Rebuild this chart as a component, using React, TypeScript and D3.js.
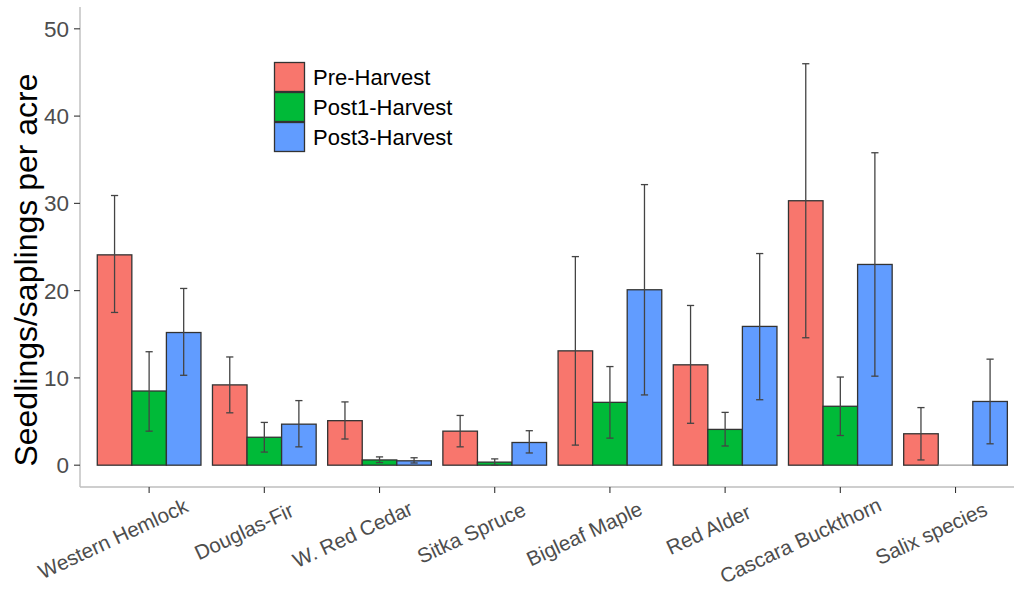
import React from "react";
import * as d3 from "d3";

const categories = ["Western Hemlock", "Douglas-Fir", "W. Red Cedar", "Sitka Spruce", "Bigleaf Maple", "Red Alder", "Cascara Buckthorn", "Salix species"];
const seriesNames = ["Pre-Harvest", "Post1-Harvest", "Post3-Harvest"];
const seriesColors = ["#F8766D", "#00BA38", "#619CFF"];
const preValues = [24.1, 9.2, 5.1, 3.9, 13.1, 11.5, 30.3, 3.6];
const preLow = [17.5, 6.0, 3.0, 2.1, 2.3, 4.8, 14.6, 0.6];
const preHigh = [30.9, 12.4, 7.25, 5.7, 23.9, 18.3, 46.0, 6.6];
const post1Values = [8.5, 3.2, 0.6, 0.35, 7.2, 4.1, 6.75, 0];
const post1Low = [3.9, 1.5, 0.3, 0.0, 3.1, 2.2, 3.4, 0];
const post1High = [13.0, 4.9, 0.95, 0.72, 11.3, 6.05, 10.1, 0];
const post3Values = [15.2, 4.7, 0.5, 2.6, 20.1, 15.9, 23.0, 7.3];
const post3Low = [10.3, 2.1, 0.25, 1.4, 8.05, 7.5, 10.2, 2.45];
const post3High = [20.25, 7.4, 0.85, 3.95, 32.15, 24.25, 35.8, 12.15];
const yTicks = [0, 10, 20, 30, 40, 50];
const yTitle = "Seedlings/saplings per acre";

const values = [preValues, post1Values, post3Values];
const lows = [preLow, post1Low, post3Low];
const highs = [preHigh, post1High, post3High];

const FONT = "'Liberation Sans', Arial, sans-serif";
const X_LABEL_SIZE = 20.6;

function measure(text: string, size: number): number {
  if (typeof document === "undefined") return text.length * size * 0.5;
  const c = document.createElement("canvas").getContext("2d");
  if (!c) return text.length * size * 0.5;
  c.font = `${size}px ${FONT}`;
  return c.measureText(text).width;
}

export default function App() {
  const W = 1014, H = 596;
  const panelLeft = 80, panelTop = 7, panelBottom = 487;
  const step = 115.2;
  const x = d3.scaleBand<string>().domain(categories).range([panelLeft, panelLeft + 8.2 * step]).paddingInner(0.1).paddingOuter(0.15);
  const xi = d3.scaleBand<string>().domain(seriesNames).range([0, x.bandwidth()]).padding(0);
  const y = d3.scaleLinear().domain([-2.5, 52.5]).range([panelBottom, panelTop]);
  const capHalf = 3.6;

  return (
    <svg width={W} height={H} style={{ position: "absolute", left: 0, top: 0, background: "#fff" }} fontFamily={FONT}>
      <rect x={0} y={0} width={W} height={H} fill="#fff" />
      {/* axis lines */}
      <line x1={panelLeft} x2={panelLeft} y1={panelTop} y2={panelBottom} stroke="#BEBEBE" strokeWidth={1.4} />
      <line x1={panelLeft} x2={W} y1={panelBottom} y2={panelBottom} stroke="#BEBEBE" strokeWidth={1.4} />
      {/* y ticks */}
      {yTicks.map((t) => (
        <g key={t}>
          <line x1={panelLeft - 6} x2={panelLeft} y1={y(t)} y2={y(t)} stroke="#333" strokeWidth={1.1} />
          <text x={panelLeft - 11} y={y(t)} dy="0.36em" textAnchor="end" fontSize={22.5} fill="#4D4D4D">{t}</text>
        </g>
      ))}
      {/* x ticks & labels */}
      {categories.map((c) => {
        const cx = (x(c) as number) + x.bandwidth() / 2;
        const L = measure(c, X_LABEL_SIZE);
        return (
          <g key={c}>
            <line x1={cx} x2={cx} y1={panelBottom} y2={panelBottom + 6} stroke="#333" strokeWidth={1.1} />
            <text transform={`translate(${cx + 12.5},${524}) rotate(-25)`} x={-0.81 * L} textAnchor="start" fontSize={X_LABEL_SIZE} fill="#4D4D4D">{c}</text>
          </g>
        );
      })}
      {/* bars */}
      {seriesNames.map((s, si) => (
        <g key={s}>
          {categories.map((c, ci) => {
            const bx = (x(c) as number) + (xi(s) as number);
            const v = values[si][ci];
            if (v === 0) {
              return <line key={c} x1={bx} x2={bx + xi.bandwidth()} y1={y(0)} y2={y(0)} stroke="#999" strokeWidth={1.2} />;
            }
            return (
              <rect key={c} x={bx} y={y(v)} width={xi.bandwidth()} height={y(0) - y(v)} fill={seriesColors[si]} stroke="#333" strokeWidth={1.3} />
            );
          })}
        </g>
      ))}
      {/* error bars */}
      {seriesNames.map((s, si) => (
        <g key={s + "e"}>
          {categories.map((c, ci) => {
            const ex = (x(c) as number) + (xi(s) as number) + xi.bandwidth() / 2;
            const lo = lows[si][ci], hi = highs[si][ci];
            if (hi === 0 && lo === 0) return null;
            return (
              <g key={c} stroke="#444" strokeWidth={1.3}>
                <line x1={ex} x2={ex} y1={y(lo)} y2={y(hi)} />
                <line x1={ex - capHalf} x2={ex + capHalf} y1={y(lo)} y2={y(lo)} />
                <line x1={ex - capHalf} x2={ex + capHalf} y1={y(hi)} y2={y(hi)} />
              </g>
            );
          })}
        </g>
      ))}
      {/* y title */}
      <text transform={`translate(37,270) rotate(-90)`} textAnchor="middle" fontSize={32} fill="#000">{yTitle}</text>
      {/* legend */}
      {seriesNames.map((s, si) => (
        <g key={s + "l"} transform={`translate(274,${62 + si * 30})`}>
          <rect x={0.5} y={0.5} width={30} height={29} fill={seriesColors[si]} stroke="#333" strokeWidth={1.3} />
          <text x={39} y={15} dy="0.36em" fontSize={22} fill="#000">{s}</text>
        </g>
      ))}
    </svg>
  );
}
